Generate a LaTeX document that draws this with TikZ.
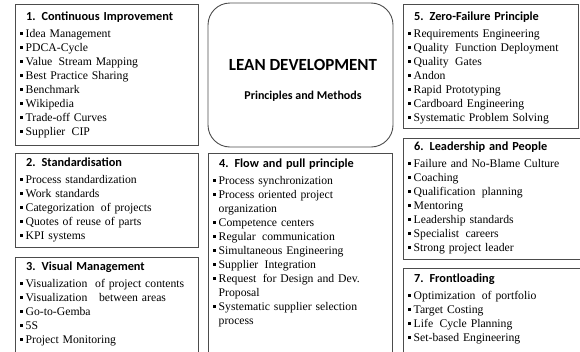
\documentclass[tikz,border=0pt]{standalone}
\usepackage{fontspec}
\setmainfont{Liberation Serif}
\newfontfamily\headfont{Carlito}
\hyphenpenalty=10000
\exhyphenpenalty=10000

% пункт списка с квадратиком
\newcommand\itm[1]{\par\hangindent=6pt\hangafter=1\noindent\makebox[6pt][l]{\rule[2.3pt]{2.8pt}{2.8pt}}#1\par}
% заголовок блока
\newcommand\ttl[1]{\noindent\hspace*{6.5pt}{\headfont\bfseries\fontsize{12.3}{14}\selectfont #1}\par\vspace{3pt}}
% лишний пробел
\newcommand\gap{\hspace{2.5pt}}

\tikzset{
  frame/.style={draw=black!70, line width=0.9pt},
  lst/.style={anchor=base west, inner sep=0pt, text width=#1, align=left,
    font=\fontsize{11.7}{14}\selectfont},
  head/.style={font=\headfont\bfseries\fontsize{#1}{#1}\selectfont, inner sep=0pt},
}

\begin{document}
\begin{tikzpicture}[x=1pt,y=-1pt]
        \useasboundingbox (0,0) rectangle (580,351);
        \clip (0,0) rectangle (580,351);
        % рамки
        \draw[frame] (15,4) rectangle (198,145);
        \draw[frame] (15,153) rectangle (198,247);
        \draw[frame] (15,257) rectangle (198,360);
        \draw[frame,rounded corners=22pt] (208,3) rectangle (393,147);
        \draw[frame] (208,153) rectangle (392,360);
        \draw[frame] (403,4) rectangle (578.5,128);
        \draw[frame] (403,138) rectangle (590,259);
        \draw[frame] (403,268) rectangle (590,360);

        % центр
        \node[head=17] (lean) at (303,65) {LEAN DEVELOPMENT};
        \node[head=12] (princ) at (303,96) {Principles and Methods};

        % левая колонка
        \node[lst=170pt] (ci) at (19.5,20) {\ttl{1. Continuous Improvement}
            \itm{Idea Management}\itm{PDCA-Cycle}\itm{Value\gap{} Stream Mapping}
            \itm{Best Practice Sharing}\itm{Benchmark}\itm{Wikipedia}
            \itm{Trade-off Curves}\itm{Supplier\gap{} CIP}};
        \node[lst=170pt] (std) at (19.5,166) {\ttl{2. Standardisation}
            \itm{Process standardization}\itm{Work standards}
            \itm{Categorization\gap{} of projects}\itm{Quotes of reuse of parts}
            \itm{KPI systems}};
        \node[lst=170pt] (vis) at (19.5,270) {\ttl{3. Visual Management}
            \itm{Visualization\ \ of project contents}
            \itm{Visualization\ \ \ between areas}
            \itm{Go-to-Gemba}\itm{5S}\itm{Project Monitoring}};

        % средняя колонка
        \node[lst=172pt] (flow) at (212.5,167) {\ttl{4. Flow and pull principle}
            \itm{Process synchronization}
            \itm{Process oriented project organization}
            \itm{Competence centers}\itm{Regular\gap{} communication}
            \itm{Simultaneous Engineering}\itm{Supplier\gap{} Integration}
            \itm{Request\gap{} for Design and Dev. Proposal}
            \itm{Systematic supplier selection process}};

        % правая колонка
        \node[lst=165pt] (zf) at (407.5,20) {\ttl{5. Zero-Failure Principle}
            \itm{Requirements Engineering}\itm{Quality\gap{} Function Deployment}
            \itm{Quality\gap{} Gates}\itm{Andon}\itm{Rapid Prototyping}
            \itm{Cardboard Engineering}\itm{Systematic Problem Solving}};
        \node[lst=165pt] (lead) at (407.5,150) {\ttl{6. Leadership and People}
            \itm{Failure and No-Blame Culture}\itm{Coaching}
            \itm{Qualification\gap{} planning}\itm{Mentoring}
            \itm{Leadership standards}\itm{Specialist\gap{} careers}
            \itm{Strong project leader}};
        \node[lst=165pt] (front) at (407.5,282) {\ttl{7. Frontloading}
            \itm{Optimization\gap{} of portfolio}\itm{Target Costing}
            \itm{Life\gap{} Cycle Planning}\itm{Set-based Engineering}};
\end{tikzpicture}
\end{document}
